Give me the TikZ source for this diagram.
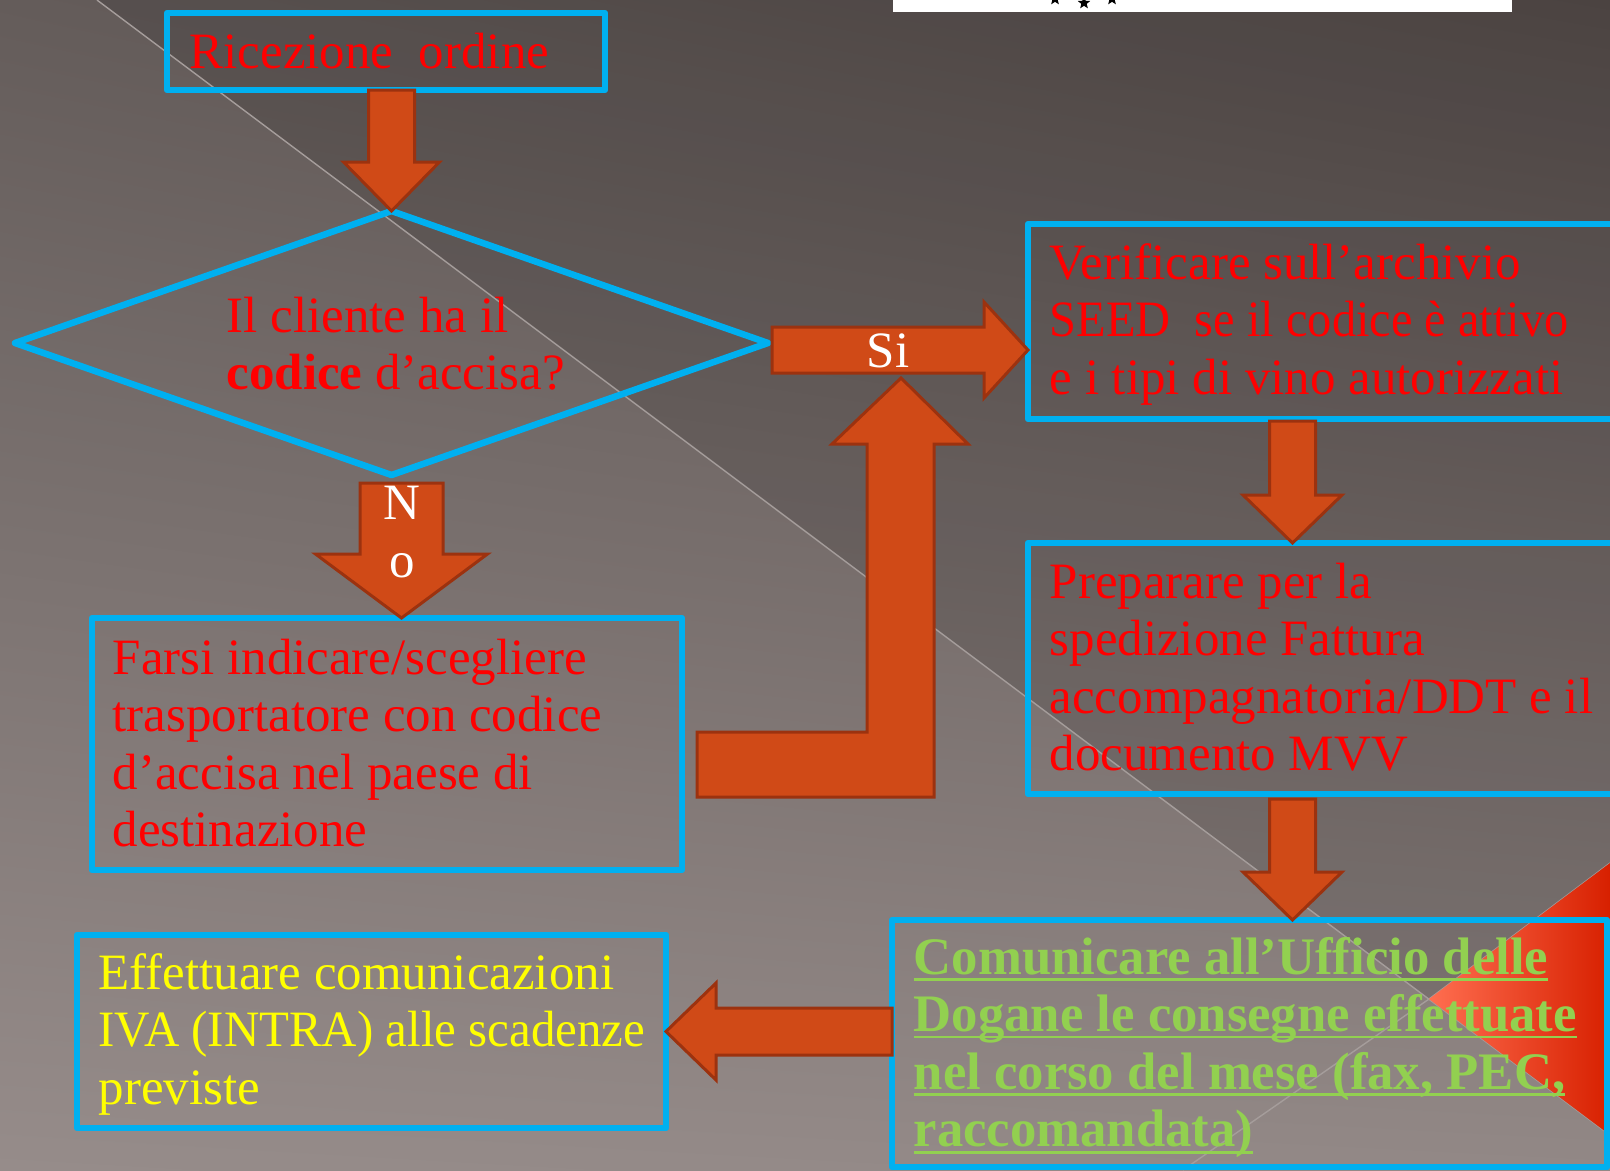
\documentclass[tikz,border=0pt]{standalone}
\usepackage{fontspec}
\setmainfont{Liberation Serif}
\usepackage{xcolor}
\usepackage{graphicx}
\definecolor{ColBox}{RGB}{0,176,240}
\definecolor{ColArrow}{RGB}{208,74,23}
\definecolor{ColArrowLine}{RGB}{156,50,15}
\definecolor{ColRed}{RGB}{255,0,0}
\definecolor{ColYellow}{RGB}{255,255,0}
\definecolor{ColGreen}{RGB}{146,208,80}
\definecolor{BgUL}{RGB}{100,92,90}
\definecolor{BgUR}{RGB}{86,77,75}
\definecolor{BgLL}{RGB}{150,140,138}
\definecolor{BgLR}{RGB}{146,136,134}
\definecolor{ColRule}{RGB}{165,157,155}
\definecolor{TriA}{RGB}{255,110,80}
\definecolor{TriB}{RGB}{255,48,0}
\definecolor{TriC}{RGB}{215,32,0}
\usepackage{tikz}
\usetikzlibrary{shapes.geometric}
\usetikzlibrary{shadings}
\usetikzlibrary{calc}
\tikzstyle{Box}=[draw=ColBox,line width=1.85pt,line join=round,inner sep=0pt,
outer sep=0pt,anchor=north west]
\tikzstyle{Diam}=[diamond,draw=ColBox,line width=1.85pt,line join=round,inner sep=0pt,
outer sep=0pt,minimum width=75.3mm,minimum height=26.4mm]
\tikzstyle{Arrow}=[fill=ColArrow,draw=ColArrowLine,line width=0.85pt,line join=miter]
\tikzstyle{Txt}=[inner sep=0pt,anchor=base west,font=\fontsize{14.5}{16.4}\selectfont]
\tikzstyle{TxtRed}=[Txt,text=ColRed]
\tikzstyle{TxtYellow}=[Txt,text=ColYellow]
\tikzstyle{TxtWhite}=[Txt,text=white,anchor=center]
\tikzstyle{TxtGreen}=[Txt,text=ColGreen,font=\bfseries\fontsize{15}{16.4}\selectfont]
\tikzstyle{Star}=[star,star points=5,star point ratio=2.3,fill=black,inner sep=0pt,
minimum size=1.3mm]
\newcommand{\Lines}[1]{\parbox[t]{80mm}{\raggedright #1}}
\newcommand{\Narrow}[2]{\leavevmode\scalebox{#1}[1]{#2}}
\newcommand{\Uline}[1]{\leavevmode\setbox0\hbox{#1}\rlap{\rule[-1.9pt]{\wd0}{0.8pt}}\box0}
% block arrow: from, to, half shaft, half head, head length
\newcommand{\BlockArrow}[5]{%
  \coordinate (bah) at ($(#2)!#5!(#1)$);
  \draw[Arrow] ($(#1)!#3!90:(#2)$) -- ($(bah)!#3!-90:(#1)$)
    -- ($(bah)!#4!-90:(#1)$) -- (#2) -- ($(bah)!#4!90:(#1)$)
    -- ($(bah)!#3!90:(#1)$) -- ($(#1)!#3!-90:(#2)$) -- cycle;}

\begin{document}
\begin{tikzpicture}[x=0.1mm,y=-0.1mm]
    \useasboundingbox (0,0) rectangle (1610,1170);
    \clip (0,0) rectangle (1610,1170);
    % slide background
    \shade[upper left=BgUL,upper right=BgUR,lower left=BgLL,lower right=BgLR]
        (0,0) rectangle (1610,1170);
    \fill[black,opacity=0.12] (97,0) -- (1610,0) -- (1610,1135) -- cycle;
    \draw[ColRule,line width=0.4pt] (97,0) -- (1610,1135);
    \draw[ColRule,line width=0.4pt] (1183,1170) -- (1429,999) -- (1610,863);
    \shade[left color=TriA,middle color=TriB,right color=TriC]
        (1429,999) -- (1610,863) -- (1610,1135) -- cycle;
    \fill[white] (893,-5) rectangle (1512,12);
    \node[Star](s1)at(1055,-1){};
    \node[Star](s2)at(1084,3){};
    \node[Star](s3)at(1112,-1){};
    % boxes
    \node[Box,minimum width=43.8mm,minimum height=7.7mm](ricez)at(167,13){};
    \node[Diam](diam)at(391.5,343){};
    \node[Box,minimum width=59.7mm,minimum height=19.5mm](verif)at(1028,224){};
    \node[Box,minimum width=59.7mm,minimum height=25.1mm](prep)at(1028,543){};
    \node[Box,minimum width=59.0mm,minimum height=25.2mm](farsi)at(92,618){};
    \node[Box,minimum width=58.9mm,minimum height=19.3mm](eff)at(77,935){};
    \node[Box,minimum width=71.5mm,minimum height=24.7mm](comm)at(892,920){};
    % arrows
    \coordinate (siS) at ($(diam.east)+(4,7)$);
    \coordinate (siE) at (verif.west |- siS);
    \coordinate (noS) at ($(diam.south)+(10,8)$);
    \coordinate (noE) at (noS |- farsi.north);
    \coordinate (vpS) at ($(verif.south)+(-34,2)$);
    \coordinate (vpE) at (vpS |- prep.north);
    \coordinate (pcS) at ($(prep.south)+(-34,5)$);
    \coordinate (pcE) at (pcS |- comm.north);
    \coordinate (ceS) at (comm.west |- eff.east);
    \BlockArrow{ricez.south -| diam.north}{diam.north}{2.3mm}{4.8mm}{4.9mm}
    \draw[Arrow] (697,797) -- (934,797) -- (934,444) -- (968,444) -- (901,378)
        -- (832,444) -- (867,444) -- (867,732) -- (697,732) -- cycle;
    \BlockArrow{siS}{siE}{2.3mm}{4.8mm}{4.4mm}
    \BlockArrow{noS}{noE}{4.15mm}{8.6mm}{6.4mm}
    \BlockArrow{vpS}{vpE}{2.3mm}{4.95mm}{4.8mm}
    \BlockArrow{pcS}{pcE}{2.3mm}{4.95mm}{4.8mm}
    \BlockArrow{ceS}{eff.east}{2.35mm}{4.85mm}{5mm}
    % texts
    \node[TxtWhite](si)at(888,351){Si};
    \node[TxtWhite,align=center](no)at(402,532){N\\o};
    \node[TxtRed](ricezT)at(189,68){Ricezione\ \ ordine};
    \node[TxtRed](diamT)at(226,332){\Lines{Il cliente ha il\\\textbf{codice} d’accisa?}};
    \node[TxtRed](verifT)at(1049,279){\Lines{Verificare sull’archivio\\
        \Narrow{0.95}{SEED\ \ se il codice è attivo}\\e i tipi di vino autorizzati}};
    \node[TxtRed](prepT)at(1049,598){\Lines{Preparare per la\\spedizione Fattura\\
        accompagnatoria/DDT e il\\documento MVV}};
    \node[TxtRed](farsiT)at(112,674){\Lines{Farsi indicare/scegliere\\
        trasportatore con codice\\d’accisa nel paese di\\destinazione}};
    \node[TxtYellow](effT)at(98,989){\Lines{Effettuare comunicazioni\\
        \Narrow{0.96}{IVA (INTRA) alle scadenze}\\previste}};
    \node[TxtGreen](commT)at(913,974){\Lines{\Uline{Comunicare all’Ufficio delle}\\
        \Uline{Dogane le consegne effettuate}\\\Uline{nel corso del mese (fax, PEC,}\\
        \Uline{raccomandata)}}};
\end{tikzpicture}
\end{document}
